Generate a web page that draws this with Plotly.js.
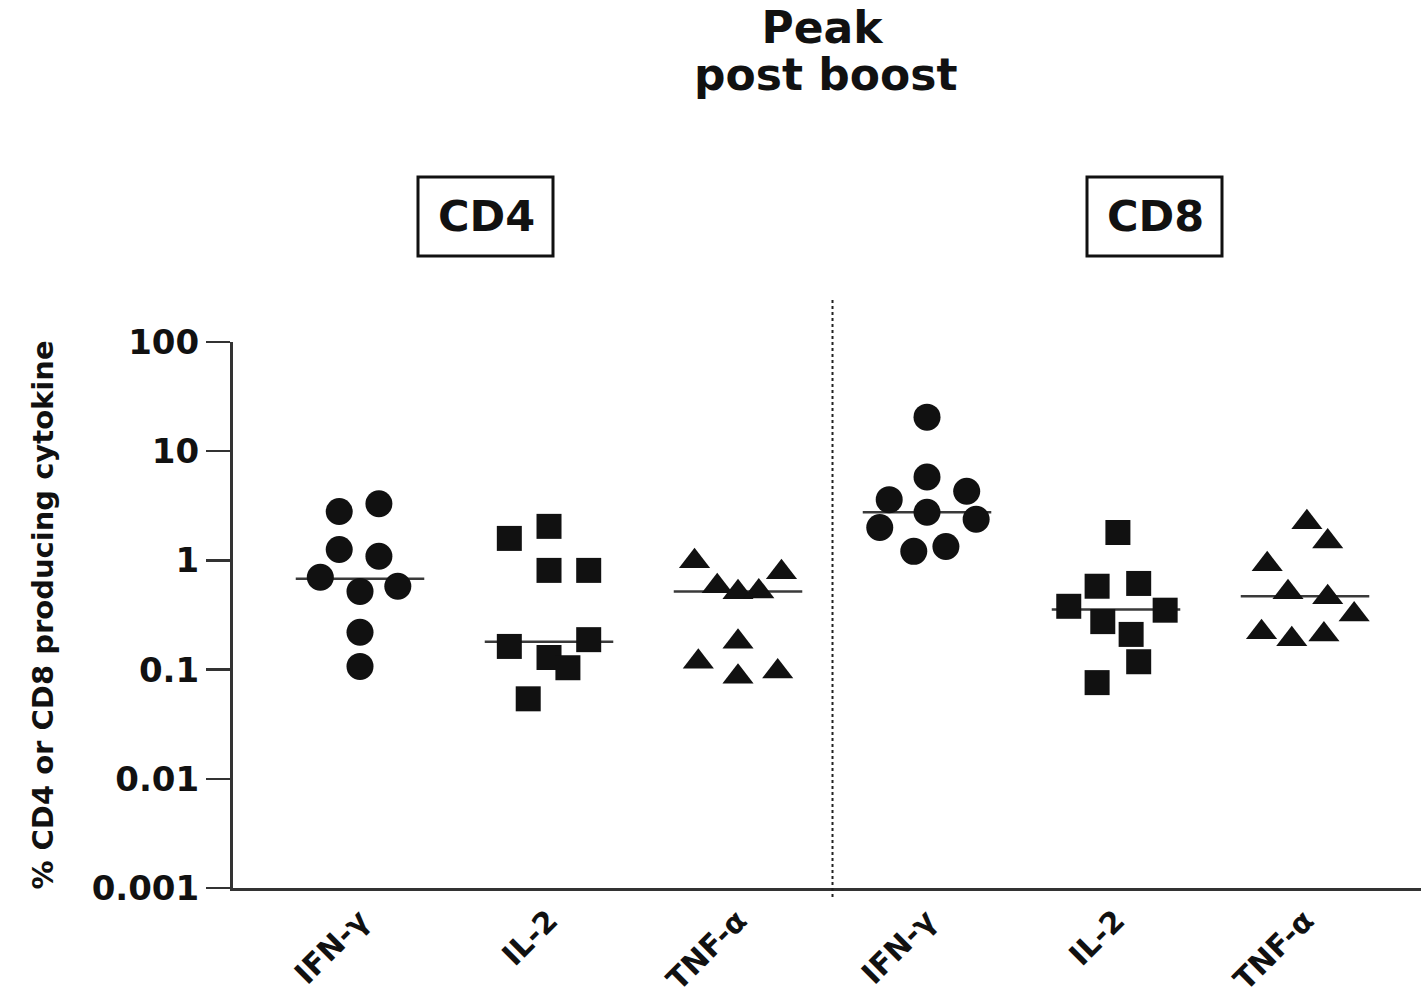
<!DOCTYPE html>
<html>
<head>
<meta charset="utf-8">
<script src="https://cdn.plot.ly/plotly-3.0.1.min.js"></script>
<style>html,body{margin:0;padding:0;background:#fff;}</style>
</head>
<body>
<div id="chart" style="width:1423px;height:1000px;"></div>
<script>
// Tick labels (x categories, in plotting order)
const categories = ["IFN-γ", "IL-2", "TNF-α", "IFN-γ", "IL-2", "TNF-α"];
const groups = ["CD4", "CD4", "CD4", "CD8", "CD8", "CD8"];

// Values (% producing cytokine)
const cd4IFN = [2.8, 3.3, 1.26, 1.09, 0.70, 0.52, 0.58, 0.22, 0.107];
const cd4IL2 = [1.59, 2.05, 0.81, 0.81, 0.163, 0.188, 0.129, 0.104, 0.054];
const cd4TNF = [0.98, 0.78, 0.58, 0.51, 0.52, 0.18, 0.118, 0.086, 0.096];
const cd8IFN = [20.5, 5.8, 3.6, 4.3, 2.76, 2.0, 2.38, 1.21, 1.34];
const cd8IL2 = [1.8, 0.58, 0.615, 0.38, 0.35, 0.275, 0.21, 0.118, 0.076];
const cd8TNF = [2.23, 1.49, 0.92, 0.51, 0.46, 0.32, 0.22, 0.19, 0.21];

// Horizontal scatter of each dot inside its column (fraction of column spacing)
const cd4IFNjit = [-0.11, 0.10, -0.11, 0.10, -0.21, 0, 0.20, 0, 0];
const cd4IL2jit = [-0.21, 0, 0, 0.21, -0.21, 0.21, 0, 0.10, -0.11];
const cd4TNFjit = [-0.23, 0.23, -0.11, 0, 0.11, 0, -0.21, 0, 0.21];
const cd8IFNjit = [0, 0, -0.20, 0.21, 0, -0.25, 0.26, -0.07, 0.10];
const cd8IL2jit = [0.01, -0.10, 0.12, -0.25, 0.26, -0.07, 0.08, 0.12, -0.10];
const cd8TNFjit = [0.01, 0.12, -0.20, -0.09, 0.12, 0.26, -0.23, -0.07, 0.10];

// Median lines
const medians = [0.68, 0.18, 0.52, 2.76, 0.355, 0.47];

const yTickVals = [0.001, 0.01, 0.1, 1, 10, 100];
const yTickText = ["0.001", "0.01", "0.1", "1", "10", "100"];

const series = [
  {vals: cd4IFN, jit: cd4IFNjit, sym: "circle", size: 27},
  {vals: cd4IL2, jit: cd4IL2jit, sym: "square", size: 25},
  {vals: cd4TNF, jit: cd4TNFjit, sym: "triangle-up", size: 27},
  {vals: cd8IFN, jit: cd8IFNjit, sym: "circle", size: 27},
  {vals: cd8IL2, jit: cd8IL2jit, sym: "square", size: 25},
  {vals: cd8TNF, jit: cd8TNFjit, sym: "triangle-up", size: 27}
];

const traces = [];
// median segments
const mx = [], my = [];
medians.forEach((m, i) => { mx.push(i - 0.34, i + 0.34, null); my.push(m, m, null); });
traces.push({
  x: mx, y: my, type: "scatter", mode: "lines",
  line: {color: "#3a3a3a", width: 2.5}, hoverinfo: "skip", showlegend: false
});
series.forEach((s, i) => {
  traces.push({
    x: s.vals.map((v, j) => i + s.jit[j]),
    y: s.vals,
    type: "scatter", mode: "markers",
    name: groups[i] + " " + categories[i],
    marker: {symbol: s.sym, size: s.size, color: "#111111", line: {width: 0}},
    showlegend: false
  });
});

const L = 233, R = 2, T = 342, B = 112, W = 1423, H = 1000;
const pw = W - L - R, ph = H - T - B;
const px = v => (v - L) / pw;
const py = v => (H - B - v) / ph;

const font = "DejaVu Sans, Arial, sans-serif";

const layout = {
  width: W, height: H,
  margin: {l: L, r: R, t: T, b: B},
  paper_bgcolor: "#ffffff", plot_bgcolor: "#ffffff",
  showlegend: false,
  title: {
    text: "<b>Peak</b>",
    font: {family: font, size: 44, color: "#111"},
    x: 822 / W, xanchor: "center", xref: "container",
    y: 1 - 28 / H, yanchor: "middle", yref: "container"
  },
  xaxis: {
    range: [-0.672, -0.672 + pw / 189],
    tickvals: [0, 1, 2, 3, 4, 5],
    ticktext: categories.map(c => "<b>" + c + "</b>"),
    tickangle: -45,
    tickfont: {family: font, size: 30, color: "#111"},
    showline: true, linecolor: "#333", linewidth: 3,
    ticks: "", showgrid: false, zeroline: false
  },
  yaxis: {
    type: "log", range: [-3, 2],
    tickvals: yTickVals,
    ticktext: yTickText.map(t => "<b>" + t + "</b>"),
    tickfont: {family: font, size: 34, color: "#111"},
    ticks: "outside", ticklen: 24, tickwidth: 2.5, tickcolor: "#333",
    showline: true, linecolor: "#333", linewidth: 3,
    showgrid: false, zeroline: false,
    title: {text: "<b>% CD4 or CD8 producing cytokine</b>",
            font: {family: font, size: 29, color: "#111"}, standoff: 30}
  },
  shapes: [
    {type: "line", xref: "x", yref: "paper", x0: 2.5, x1: 2.5, y0: py(897), y1: py(298),
     line: {color: "#222", width: 2, dash: "dot"}},
    {type: "rect", xref: "paper", yref: "paper", x0: px(418), x1: px(553), y0: py(256), y1: py(177),
     line: {color: "#111", width: 3}},
    {type: "rect", xref: "paper", yref: "paper", x0: px(1087), x1: px(1222), y0: py(256), y1: py(177),
     line: {color: "#111", width: 3}}
  ],
  annotations: [
    {text: "<b>post boost</b>", xref: "paper", yref: "paper", x: px(825), y: py(74),
     xanchor: "center", yanchor: "middle", showarrow: false,
     font: {family: font, size: 44, color: "#111"}},
    {text: "<b>CD4</b>", xref: "paper", yref: "paper", x: px(486), y: py(216),
     xanchor: "center", yanchor: "middle", showarrow: false,
     font: {family: font, size: 43, color: "#111"}},
    {text: "<b>CD8</b>", xref: "paper", yref: "paper", x: px(1155), y: py(216),
     xanchor: "center", yanchor: "middle", showarrow: false,
     font: {family: font, size: 43, color: "#111"}}
  ]
};

Plotly.newPlot("chart", traces, layout, {displayModeBar: false, staticPlot: true});
</script>
</body>
</html>
